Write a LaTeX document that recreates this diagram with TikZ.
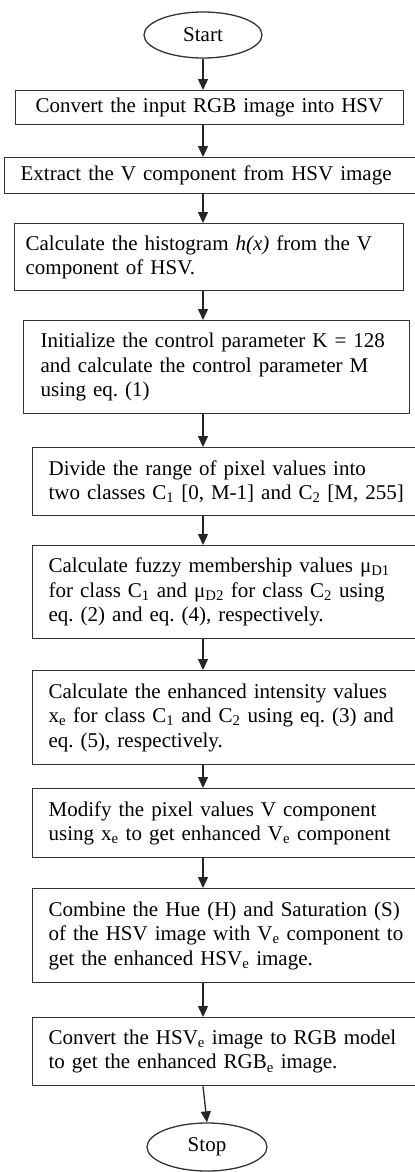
\documentclass[tikz,border=0pt]{standalone}
\usepackage{fontspec}
\setmainfont{Liberation Serif}
\usetikzlibrary{shapes.geometric,arrows.meta}
\newcommand{\lowsub}[1]{\textsubscript{#1}}
\frenchspacing

\begin{document}
\begin{tikzpicture}[x=1bp,y=1bp,>={Triangle[length=11bp,width=10bp]},line join=bevel,
  stepnode/.style={draw=black!80,line width=1.3bp,rectangle,align=left,anchor=north west,inner ysep=0pt,font=\fontsize{21bp}{24.5bp}\selectfont},
  termnode/.style={draw=black!80,line width=1.3bp,ellipse,inner sep=0pt,font=\fontsize{21bp}{24.5bp}\selectfont},
  flowline/.style={->,line width=1.3bp,black!85}]
  \useasboundingbox (0,0) rectangle (414,-1172);
  \coordinate (axis) at (203,0);
%%
  % Node: Start
  \node[termnode,minimum width=118bp,minimum height=46bp] (start) at (203,-35) {Start};
  % Node: RGBtoHSV
  \node[stepnode,minimum width=388bp,minimum height=34bp,text width=348bp,inner xsep=20bp] (rgbhsv) at (15,-90) {Convert the input RGB image into HSV};
  % Node: Extract
  \node[stepnode,minimum width=446bp,minimum height=36bp,text width=414bp,inner xsep=16bp] (extract) at (4,-157) {Extract the V component from HSV image};
  % Node: Histogram
  \node[stepnode,minimum width=389bp,minimum height=67bp,text width=367bp,inner xsep=11bp] (histo) at (14,-223) {Calculate the histogram \textit{h(x)} from the V\\component of HSV.};
  % Node: Init
  \node[stepnode,minimum width=386bp,minimum height=93bp,text width=352bp,inner xsep=17bp] (init) at (23,-320) {Initialize the control parameter K = 128\\and calculate the control parameter M\\using eq. (1)};
  % Node: Divide
  \node[stepnode,minimum width=418bp,minimum height=68bp,text width=386bp,inner xsep=16bp] (divide) at (32,-447) {Divide the range of pixel values into\\two classes C\lowsub{1} [0, M-1] and C\lowsub{2} [M, 255]};
  % Node: Fuzzy
  \node[stepnode,minimum width=418bp,minimum height=93bp,text width=386bp,inner xsep=16bp] (fuzzy) at (32,-545) {Calculate fuzzy membership values μ\lowsub{D1}\\for class C\lowsub{1} and μ\lowsub{D2} for class C\lowsub{2} using\\eq. (2) and eq. (4), respectively.};
  % Node: Enhance
  \node[stepnode,minimum width=418bp,minimum height=94bp,text width=386bp,inner xsep=16bp] (enhance) at (32,-670) {Calculate the enhanced intensity values\\x\lowsub{e} for class C\lowsub{1} and C\lowsub{2} using eq. (3) and\\eq. (5), respectively.};
  % Node: Modify
  \node[stepnode,minimum width=418bp,minimum height=69bp,text width=386bp,inner xsep=16bp] (modify) at (32,-788) {Modify the pixel values V component\\using x\lowsub{e} to get enhanced V\lowsub{e} component};
  % Node: Combine
  \node[stepnode,minimum width=418bp,minimum height=94bp,text width=386bp,inner xsep=16bp] (combine) at (32,-888) {Combine the Hue (H) and Saturation (S)\\of the HSV image with V\lowsub{e} component to\\get the enhanced HSV\lowsub{e} image.};
  % Node: HSVtoRGB
  \node[stepnode,minimum width=418bp,minimum height=68bp,text width=386bp,inner xsep=16bp] (hsvrgb) at (32,-1017) {Convert the HSV\lowsub{e} image to RGB model\\to get the enhanced RGB\lowsub{e} image.};
  % Node: Stop
  \node[termnode,minimum width=120bp,minimum height=48bp] (stop) at (207,-1147) {Stop};
%%
  % Edge: Start -> RGBtoHSV
  \draw[flowline] (start.south -| axis) -- (rgbhsv.north -| axis);
  % Edge: RGBtoHSV -> Extract
  \draw[flowline] (rgbhsv.south -| axis) -- (extract.north -| axis);
  % Edge: Extract -> Histogram
  \draw[flowline] (extract.south -| axis) -- (histo.north -| axis);
  % Edge: Histogram -> Init
  \draw[flowline] (histo.south -| axis) -- (init.north -| axis);
  % Edge: Init -> Divide
  \draw[flowline] (init.south -| axis) -- (divide.north -| axis);
  % Edge: Divide -> Fuzzy
  \draw[flowline] (divide.south -| axis) -- (fuzzy.north -| axis);
  % Edge: Fuzzy -> Enhance
  \draw[flowline] (fuzzy.south -| axis) -- (enhance.north -| axis);
  % Edge: Enhance -> Modify
  \draw[flowline] (enhance.south -| axis) -- (modify.north -| axis);
  % Edge: Modify -> Combine
  \draw[flowline] (modify.south -| axis) -- (combine.north -| axis);
  % Edge: Combine -> HSVtoRGB
  \draw[flowline] (combine.south -| axis) -- (hsvrgb.north -| axis);
  % Edge: HSVtoRGB -> Stop
  \draw[flowline] (hsvrgb.south -| axis) -- (stop.north);
%
\end{tikzpicture}
\end{document}
